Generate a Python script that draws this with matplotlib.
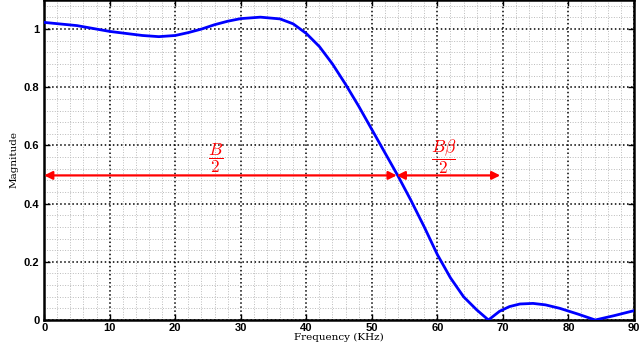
"""Filter magnitude response with B/2 and B*beta/2 annotations."""
import matplotlib
matplotlib.use("Agg")
import matplotlib.pyplot as plt
from matplotlib.ticker import MultipleLocator, FixedLocator

plt.rcParams["mathtext.fontset"] = "cm"

# --- data ---
freq = [0, 5, 10, 15, 17.5, 20, 22, 24, 26, 28, 30, 33, 36, 38, 40,
        42, 44, 46, 48, 50, 52, 54, 56, 58, 60, 62, 64, 66, 67.8,
        69.5, 71, 72.6, 74.6, 76.5, 78.7, 81.5, 84.1, 87, 90]
magnitude = [1.023, 1.012, 0.992, 0.978, 0.974, 0.978, 0.988, 1.0, 1.015,
             1.027, 1.036, 1.041, 1.035, 1.018, 0.985, 0.94, 0.88, 0.81,
             0.735, 0.655, 0.575, 0.495, 0.41, 0.32, 0.225, 0.145, 0.08,
             0.035, 0.0, 0.03, 0.046, 0.055, 0.057, 0.052, 0.04, 0.02,
             0.0, 0.015, 0.032]
x_ticks = [0, 10, 20, 30, 40, 50, 60, 70, 80, 90]
y_ticks = [0, 0.2, 0.4, 0.6, 0.8, 1.0]
y_tick_labels = ["0", "0.2", "0.4", "0.6", "0.8", "1"]
half_power = 0.497
f_edge = 53.8
f_stop = 69.6

fig = plt.figure(figsize=(6.4, 3.45), dpi=100)
ax = fig.add_axes([0.069, 0.0725, 0.9215, 0.9275])

ax.plot(freq, magnitude, color="#0000ff", linewidth=2, zorder=3)

# double-headed arrows
arrow = dict(arrowstyle="<|-|>", color="#ff0000", lw=1.6,
             mutation_scale=12, shrinkA=0, shrinkB=0)
ax.annotate("", xy=(0, half_power), xytext=(f_edge, half_power),
            arrowprops=arrow, zorder=4)
ax.annotate("", xy=(f_edge, half_power), xytext=(f_stop, half_power),
            arrowprops=arrow, zorder=4)
ax.text(26.1, 0.555, r"$\dfrac{B}{2}$", color="#ff0000",
        fontsize=12.5, ha="center", va="center")
ax.text(61.0, 0.56, r"$\dfrac{B\beta}{2}$", color="#ff0000", fontsize=12.5,
        ha="center", va="center")

ax.set_xlim(0, 90)
ax.set_ylim(0, 1.1)
ax.xaxis.set_major_locator(FixedLocator(x_ticks))
ax.yaxis.set_major_locator(FixedLocator(y_ticks))
ax.set_yticklabels(y_tick_labels)
ax.xaxis.set_minor_locator(MultipleLocator(2))
ax.yaxis.set_minor_locator(MultipleLocator(0.04))

ax.grid(True, which="major", color="black", linestyle=":", linewidth=1.1)
ax.grid(True, which="minor", color="#bbbbbb", linestyle=":", linewidth=0.7)
ax.set_axisbelow(True)

ax.tick_params(which="both", direction="in", top=True, right=True,
               labelsize=8, width=1)
ax.tick_params(which="major", length=4)
ax.tick_params(which="minor", length=0)
ax.tick_params(axis="x", pad=2)
for lab in ax.get_xticklabels() + ax.get_yticklabels():
    lab.set_fontfamily("Liberation Sans")
    lab.set_fontweight("bold")
for sp in ax.spines.values():
    sp.set_linewidth(1.8)

ax.set_xlabel("Frequency (KHz)", family="DejaVu Serif", fontsize=7.5,
              labelpad=0)
ax.set_ylabel("Magnitude", family="DejaVu Serif", fontsize=7.5, labelpad=4)

fig.savefig("out.png", dpi=100)
